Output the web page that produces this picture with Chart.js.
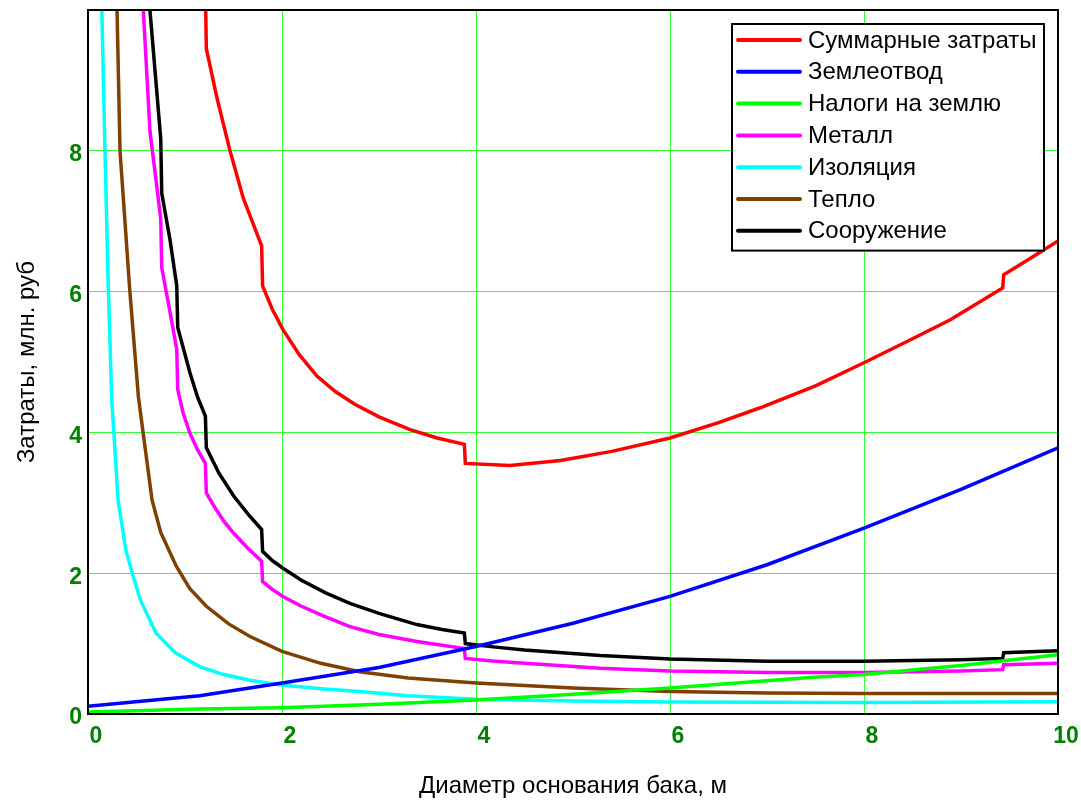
<!DOCTYPE html>
<html lang="ru">
<head>
<meta charset="utf-8">
<title>Затраты</title>
<script src="https://cdn.jsdelivr.net/npm/chart.js@4.4.1/dist/chart.umd.min.js"></script>
<style>
    html, body { margin: 0; padding: 0; background: #fff; }
    #wrap { width: 1081px; height: 803px; }
</style>
</head>
<body>
<div id="wrap"><canvas id="costChart" width="1081" height="803"></canvas></div>
<script>
// ---- данные (x - диаметр, м; y - млн. руб) ----
const sumX   = [1.21, 1.22, 1.33, 1.46, 1.60, 1.79, 1.80, 1.90, 2.01, 2.18, 2.36, 2.55, 2.75, 3.0, 3.32, 3.6, 3.88, 3.89, 4.35, 4.87, 5.4, 6.0, 6.5, 6.93, 7.5, 8.0, 8.5, 8.89, 9.43, 9.44, 9.7, 10];
const sumY   = [10.3, 9.45, 8.75, 8.02, 7.33, 6.65, 6.08, 5.75, 5.46, 5.10, 4.80, 4.58, 4.40, 4.22, 4.04, 3.92, 3.83, 3.56, 3.53, 3.60, 3.73, 3.92, 4.14, 4.35, 4.66, 4.99, 5.33, 5.60, 6.05, 6.24, 6.46, 6.72];

const earthX = [0, 1.15, 2, 3, 4, 5, 6, 7, 8, 9, 10];
const earthY = [0.11, 0.26, 0.44, 0.66, 0.96, 1.29, 1.67, 2.12, 2.64, 3.19, 3.78];

const taxX   = [0, 1.15, 2, 3, 4, 5, 6, 7.44, 8, 9, 10];
const taxY   = [0.03, 0.07, 0.09, 0.14, 0.20, 0.28, 0.37, 0.52, 0.56, 0.69, 0.84];

const metalX = [0.55, 0.64, 0.70, 0.75, 0.76, 0.84, 0.915, 0.925, 0.98, 1.05, 1.13, 1.21, 1.22, 1.3, 1.4, 1.5, 1.65, 1.79, 1.80, 1.9, 2.01, 2.2, 2.45, 2.70, 3.0, 3.39, 3.88, 3.89, 4.2, 4.5, 5.28, 6.0, 7.0, 8.0, 9.0, 9.43, 9.44, 10];
const metalY = [10.5, 8.26, 7.6, 7.03, 6.34, 5.75, 5.18, 4.61, 4.28, 3.99, 3.75, 3.56, 3.14, 2.95, 2.74, 2.57, 2.35, 2.17, 1.88, 1.77, 1.67, 1.53, 1.38, 1.24, 1.13, 1.03, 0.93, 0.79, 0.75, 0.72, 0.65, 0.61, 0.59, 0.59, 0.61, 0.63, 0.70, 0.72];

const insulX = [0.13, 0.175, 0.21, 0.245, 0.31, 0.39, 0.467, 0.54, 0.70, 0.90, 1.155, 1.4, 1.67, 2.0, 2.4, 2.8, 3.3, 4.0, 5, 6, 8, 10];
const insulY = [10.8, 8.0, 6.03, 4.47, 3.04, 2.33, 1.95, 1.62, 1.15, 0.87, 0.67, 0.56, 0.48, 0.41, 0.36, 0.32, 0.26, 0.21, 0.185, 0.17, 0.165, 0.175];

const heatX  = [0.29, 0.33, 0.43, 0.52, 0.66, 0.75, 0.91, 1.05, 1.22, 1.45, 1.67, 2.0, 2.4, 2.8, 3.3, 4.0, 5, 6, 7, 8, 10];
const heatY  = [10.6, 8.0, 6.03, 4.5, 3.04, 2.58, 2.10, 1.78, 1.53, 1.28, 1.10, 0.89, 0.72, 0.60, 0.51, 0.44, 0.37, 0.32, 0.30, 0.29, 0.29];

const buildX = [0.62, 0.75, 0.76, 0.845, 0.915, 0.925, 1.05, 1.13, 1.21, 1.22, 1.35, 1.5, 1.65, 1.79, 1.80, 1.9, 2.01, 2.2, 2.45, 2.70, 3.0, 3.39, 3.65, 3.88, 3.89, 4.2, 4.5, 5.28, 6.0, 7.0, 8.0, 9.0, 9.43, 9.44, 10];
const buildY = [10.3, 8.17, 7.40, 6.74, 6.08, 5.49, 4.85, 4.50, 4.23, 3.78, 3.42, 3.10, 2.84, 2.62, 2.31, 2.18, 2.07, 1.90, 1.72, 1.57, 1.43, 1.27, 1.20, 1.15, 1.00, 0.95, 0.91, 0.83, 0.78, 0.75, 0.75, 0.77, 0.79, 0.87, 0.90];

const labels = ['Суммарные затраты', 'Землеотвод', 'Налоги на землю', 'Металл', 'Изоляция', 'Тепло', 'Сооружение'];
const colors = ['#ff0000', '#0000ff', '#00ff00', '#ff00ff', '#00ffff', '#804000', '#000000'];
const seriesX = [sumX, earthX, taxX, metalX, insulX, heatX, buildX];
const seriesY = [sumY, earthY, taxY, metalY, insulY, heatY, buildY];

const xTicks = [0, 2, 4, 6, 8, 10];
const yTicks = [0, 2, 4, 6, 8];

const FONT = "'Liberation Sans', Arial, sans-serif";
Chart.defaults.font.family = FONT;

// рамка вокруг области построения
const framePlugin = {
    id: 'frame',
    afterDatasetsDraw(chart) {
        const { ctx, chartArea: a } = chart;
        ctx.save();
        ctx.strokeStyle = '#000';
        ctx.lineWidth = 2;
        ctx.strokeRect(a.left, a.top, a.right - a.left, a.bottom - a.top);
        ctx.restore();
    }
};

// легенда внутри графика, в правом верхнем углу
const boxLegend = {
    id: 'boxLegend',
    afterDraw(chart) {
        const { ctx, chartArea: a } = chart;
        const sets = chart.data.datasets;
        const w = 312, rowH = 31.8;
        const x0 = a.right - 14 - w, y0 = a.top + 14;
        const h = rowH * sets.length + 4;
        ctx.save();
        ctx.fillStyle = '#fff';
        ctx.fillRect(x0, y0, w, h);
        ctx.strokeStyle = '#000';
        ctx.lineWidth = 2;
        ctx.strokeRect(x0, y0, w, h);
        ctx.font = '24px ' + FONT;
        ctx.textBaseline = 'middle';
        ctx.textAlign = 'left';
        sets.forEach((ds, i) => {
            const cy = y0 + 16 + i * rowH;
            ctx.strokeStyle = ds.borderColor;
            ctx.lineWidth = 4;
            ctx.lineCap = 'round';
            ctx.beginPath();
            ctx.moveTo(x0 + 6, cy);
            ctx.lineTo(x0 + 68, cy);
            ctx.stroke();
            ctx.fillStyle = '#000';
            ctx.fillText(ds.label, x0 + 76, cy + 1);
        });
        ctx.restore();
    }
};

const datasets = labels.map((name, i) => ({
    label: name,
    data: seriesX[i].map((x, k) => ({ x: x, y: seriesY[i][k] })),
    borderColor: colors[i],
    backgroundColor: colors[i],
    borderWidth: 3.5,
    pointRadius: 0,
    fill: false,
    tension: 0
}));

new Chart(document.getElementById('costChart'), {
    type: 'line',
    data: { datasets: datasets },
    options: {
        responsive: false,
        animation: false,
        layout: { padding: { left: 0, right: 23, top: 10, bottom: 0 } },
        plugins: {
            legend: { display: false },
            tooltip: { enabled: false }
        },
        scales: {
            x: {
                type: 'linear',
                min: 0,
                max: 10,
                afterBuildTicks: s => { s.ticks = xTicks.map(v => ({ value: v })); },
                afterFit: s => { s.height = 89; s.paddingLeft = 0; s.paddingRight = 0; },
                grid: { color: '#33ff33', lineWidth: 1, drawTicks: false },
                border: { display: false },
                ticks: {
                    color: '#008000',
                    font: { size: 23, weight: 'bold' },
                    padding: 9,
                    labelOffset: 8,
                    maxRotation: 0,
                    autoSkip: false
                },
                title: {
                    display: true,
                    text: 'Диаметр основания бака, м',
                    color: '#000',
                    font: { size: 24 },
                    padding: { top: 0, bottom: 2 }
                }
            },
            y: {
                type: 'linear',
                min: 0,
                max: 10,
                afterBuildTicks: s => { s.ticks = yTicks.map(v => ({ value: v })); },
                afterFit: s => { s.width = 88; s.paddingTop = 0; s.paddingBottom = 0; },
                grid: { color: '#33ff33', lineWidth: 1, drawTicks: false },
                border: { display: false },
                ticks: {
                    color: '#008000',
                    font: { size: 23, weight: 'bold' },
                    padding: 6,
                    labelOffset: 4
                },
                title: {
                    display: true,
                    text: 'Затраты, млн. руб',
                    color: '#000',
                    font: { size: 24 },
                    padding: { top: 13, bottom: 0 }
                }
            }
        }
    },
    plugins: [framePlugin, boxLegend]
});
</script>
</body>
</html>
